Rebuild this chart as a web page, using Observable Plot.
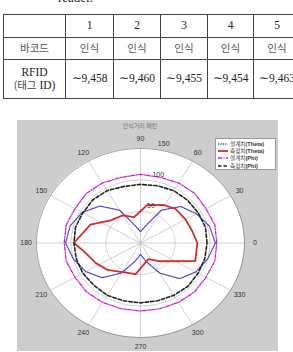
<!DOCTYPE html>
<html><head><meta charset="utf-8">
<script src="https://cdn.jsdelivr.net/npm/d3@7"></script>
<script src="https://cdn.jsdelivr.net/npm/@observablehq/plot@0.6"></script>
<style>
html,body{margin:0;padding:0;background:#fff;}
body{width:293px;height:352px;overflow:hidden;position:relative;}
#reader{position:absolute;left:58px;top:-10px;font:13px "Liberation Serif",serif;color:#222;}
table{position:absolute;left:3px;top:14px;border-collapse:collapse;table-layout:fixed;width:297px;
  font-family:"Liberation Serif",serif;font-size:11.5px;color:#222;border:1.3px solid #333;}
td{border:1px solid #444;text-align:center;padding:0;line-height:1.15;}
td.ko{font-family:"Noto Sans CJK KR",sans-serif;font-size:10.5px;color:#555;}
#panel{position:absolute;left:17px;top:120px;width:261px;height:231px;background:#cdcdcd;}
#title{position:absolute;left:0;width:280px;top:121px;text-align:center;font:6px "Noto Sans CJK KR",sans-serif;color:#777;}
#chart{position:absolute;left:0;top:120px;}
#legend{position:absolute;left:215px;top:138px;width:61px;height:32px;background:#fff;border:1px solid #999;box-sizing:border-box;
  font:5.6px "Noto Sans CJK KR",sans-serif;color:#333;padding-top:1.5px;}
#legend .row{height:7.2px;display:flex;align-items:center;white-space:nowrap;}
#legend svg{margin:0 2px 0 2px;}
#legend b{font-family:"Liberation Sans",sans-serif;}
</style></head>
<body>
<div id="reader">reader.</div>
<table id="tbl"></table>
<div id="panel"></div>
<div id="title"></div>
<div id="chart"></div>
<div id="legend"></div>
<script>
// ---- table data ----
const tableHeader = ["", "1", "2", "3", "4", "5"];
const barcodeRow = ["바코드", "인식", "인식", "인식", "인식", "인식"];
const rfidLabel = ["RFID", "(태그 ID)"];
const rfidValues = ["∼9,458", "∼9,460", "∼9,455", "∼9,454", "∼9,463"];
const colWidths = [62, 48, 47, 47, 46, 47];
const rowHeights = [23, 22, 39];

// ---- chart data ----
const chartTitle = "인식거리 패턴";
const angles = d3.range(0, 360, 15);
const designTheta = [108,103,93,82,60,28,18,28,60,83,97,105,108,100,91,78,55,30,18,30,55,80,92,100];
const designPhi   = [110,111,109,111,110,108,109,108,110,111,109,111,110,111,109,110,109,108,108,108,109,110,109,111];
const measuredPhi = [96,97,96,96,96,94,93,93,96,97,96,97,96,96,96,95,96,95,95,95,96,97,96,96];
const measuredThetaAngles = [0,14,30,47,61,81,103,121,140,158,180,189,206,222,238,262,294,315,340];
const measuredTheta       = [82,77,75,74,69,61,42,51,56,78,96,83,72,64,54,50,28,41,84];
const angleTicks = [0,30,60,90,120,150,180,210,240,270,300,330];
const radialTicks = [50,100,150];
const rMax = 150;
const seriesNames = ["설계치", "측정치", "설계치", "측정치"];
const seriesTags = ["(Theta)", "(Theta)", "(Phi)", "(Phi)"];
const seriesColors = ["#4a4ac4", "#d42c2c", "#d21ed2", "#222222"];
const seriesDash = ["1.2,1.2", null, "4,1.5,1,1.5", "3.5,2"];
const seriesWidth = [1.3, 1.8, 1.3, 1.6];

// ---- table build ----
const tbl = document.getElementById("tbl");
const cg = document.createElement("colgroup");
colWidths.forEach(w => { const c = document.createElement("col"); c.style.width = w + "px"; cg.appendChild(c); });
tbl.appendChild(cg);
function addRow(cells, h, cls) {
  const tr = document.createElement("tr"); tr.style.height = h + "px";
  cells.forEach((c, i) => { const td = document.createElement("td"); td.innerHTML = c; if (cls && cls(i)) td.className = cls(i); tr.appendChild(td); });
  tbl.appendChild(tr);
}
addRow(tableHeader, rowHeights[0]);
addRow(barcodeRow, rowHeights[1], () => "ko");
addRow([rfidLabel[0] + "<br><span style='font-family:Noto Sans CJK KR;font-size:10.5px;color:#444'>(태그</span> ID)"].concat(rfidValues), rowHeights[2]);

document.getElementById("title").textContent = chartTitle;

// ---- polar helpers ----
const rad = a => a * Math.PI / 180;
const X = d => d.r * Math.cos(rad(d.a));
const Y = d => d.r * Math.sin(rad(d.a));
const closed = (as, rs) => { const p = as.map((a, i) => ({a, r: rs[i]})); p.push({...p[0]}); return p; };

const series = [
  closed(angles, designTheta),
  closed(measuredThetaAngles, measuredTheta),
  closed(angles, designPhi),
  closed(angles, measuredPhi)
];

const disk = d3.range(0, 181, 1).map(a => ({x: rMax * Math.cos(rad(a)), y1: -rMax * Math.sin(rad(a)), y2: rMax * Math.sin(rad(a))}));
const rings = radialTicks.flatMap(r => d3.range(0, 361, 2).map(a => ({a, r, ring: r})));
const spokes = angleTicks.map(a => ({a, r: rMax}));
const angleLabels = angleTicks.map(a => ({a, r: rMax * 1.1, t: String(a)}));
const radialLabels = radialTicks.map(v => ({a: 81, r: v + 10, t: String(v)}));

const lineMarks = series.map((s, i) => Plot.line(s, {
  x: X, y: Y, stroke: seriesColors[i], strokeWidth: seriesWidth[i],
  strokeDasharray: seriesDash[i] || undefined, curve: "linear"
}));

const plot = Plot.plot({
  width: 293, height: 232,
  marginLeft: 36, marginRight: 49, marginTop: 28, marginBottom: 15,
  x: {domain: [-rMax, rMax], axis: null},
  y: {domain: [-rMax, rMax], axis: null},
  style: {background: "transparent", overflow: "visible"},
  marks: [
    Plot.areaY(disk, {x: "x", y1: "y1", y2: "y2", fill: "white"}),
    Plot.line(rings.filter(d => d.ring < rMax), {x: X, y: Y, z: "ring", stroke: "#c4c4c4", strokeWidth: 0.8}),
    Plot.link(spokes, {x1: 0, y1: 0, x2: X, y2: Y, stroke: "#c4c4c4", strokeWidth: 0.8}),
    Plot.line(rings.filter(d => d.ring === rMax), {x: X, y: Y, stroke: "#8a8a8a", strokeWidth: 0.8}),
    ...lineMarks,
    Plot.text(angleLabels, {x: X, y: Y, text: "t", fontSize: 7, fill: "#333", fontFamily: "Liberation Sans, sans-serif"}),
    Plot.text(radialLabels, {x: X, y: Y, text: "t", fontSize: 7, fill: "#333", textAnchor: "start", fontFamily: "Liberation Sans, sans-serif"})
  ]
});
document.getElementById("chart").appendChild(plot);

// ---- legend ----
const lg = document.getElementById("legend");
seriesNames.forEach((n, i) => {
  const row = document.createElement("div"); row.className = "row";
  row.innerHTML = `<svg width="10" height="4"><line x1="0" y1="2" x2="10" y2="2" stroke="${seriesColors[i]}" stroke-width="${seriesWidth[i]}" ${seriesDash[i] ? `stroke-dasharray="${seriesDash[i]}"` : ""}/></svg><span>${n}<b>${seriesTags[i]}</b></span>`;
  lg.appendChild(row);
});
</script>
</body></html>
